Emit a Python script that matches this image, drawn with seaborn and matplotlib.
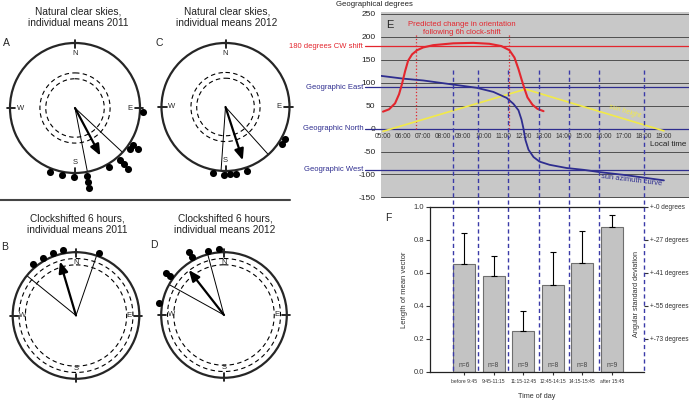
import matplotlib
matplotlib.use("Agg")
import matplotlib.pyplot as plt
import matplotlib.transforms as mtransforms
from matplotlib.lines import Line2D
import seaborn as sns
import numpy as np
import pandas as pd

W, H = 689, 400

# médias individuais (graus, N=0, sentido horário)
angA = [93, 123, 123, 127, 139, 139, 139, 150, 170, 170, 170, 181, 191, 201]
angC = [118, 123, 161, 171, 176, 181, 191]
angB = [320, 330, 340, 349, 20]
angD = [280, 306, 306, 331, 331, 346, 356]

# vetor médio (direção, comprimento) e intervalo de confiança
mediaA, compA, icA = 152, 0.83, (133, 169)
mediaC, compC, icC = 162, 0.875, (138, 184)
mediaB, compB, icB = 343.5, 0.89, (309, 19)
mediaD, compD, icD = 322, 0.91, (299, 345)

tracejadoNatural = (0.45, 0.54)
tracejadoShift = (0.80, 0.90)

# painel E
horasVermelho = [5.0, 5.3, 5.6, 5.8, 5.95, 6.1, 6.25, 6.45, 6.7, 7.0, 7.5, 8.5, 9.5,
                 10.3, 10.9, 11.3, 11.55, 11.75, 11.9, 12.05, 12.2, 12.45, 12.7, 13.0]
valVermelho = [37, 42, 55, 75, 98, 125, 148, 162, 171, 177, 182, 186, 187,
               185, 180, 171, 155, 130, 108, 87, 68, 52, 43, 38]

horasAzimute = [4.9, 6.0, 7.0, 8.0, 8.5, 9.67, 10.5, 11.16, 11.5, 11.75, 11.9, 12.0,
                12.1, 12.25, 12.5, 12.8, 13.3, 14.15, 15.0, 15.8, 17.0, 18.0, 19.0]
valAzimute = [115, 109, 105, 99, 96, 89, 80, 67, 54, 40, 20, 0,
              -25, -46, -62, -72, -79, -86, -90, -95, -101, -107, -113]

horasAltura = [5.0, 12.1, 19.0]
valAltura = [-6, 86, -5]

previsaoLimites = [6.65, 11.3]
limitesFaixas = [8.5, 9.75, 11.25, 12.75, 14.25, 15.75, 18.0]
horasTicks = list(range(5, 20))

# painel F
faixas = ["before 9:45", "9:45-11:15", "11:15-12:45", "12:45-14:15", "14:15-15:45", "after 15:45"]
comprimento = [0.651, 0.582, 0.247, 0.525, 0.659, 0.875]
erroSup = [0.839, 0.703, 0.368, 0.724, 0.853, 0.950]
nAves = [6, 8, 9, 8, 8, 9]
desvioPos = [1.0, 0.8, 0.6, 0.4, 0.2]
desvioTxt = ["+-0 degrees", "+-27 degrees", "+-41 degrees", "+-55 degrees", "+-73 degrees"]

sns.set_style("white")
plt.rcParams["font.family"] = ["Liberation Sans", "DejaVu Sans"]
plt.rcParams["axes.unicode_minus"] = False

VERMELHO = "#e3262e"
AZUL = "#2e2d8f"
AZUL_TRAC = "#3a3aa8"
AMARELO = "#f2ea48"

fig = plt.figure(figsize=(W / 100, H / 100), dpi=100)


def eixoPolar(cx, cy, r):
    return fig.add_axes([(cx - r) / W, (H - cy - r) / H, 2 * r / W, 2 * r / H],
                        projection="polar")


def rosa(ax, angulos, media, comp, ic, raiosTrac):
    ax.set_theta_zero_location("N")
    ax.set_theta_direction(-1)
    ax.set_ylim(0, 1)
    ax.set_xticks([])
    ax.set_yticks([])
    ax.grid(False)
    ax.set_facecolor("none")
    ax.spines["polar"].set_linewidth(1.6)
    t = np.linspace(0, 2 * np.pi, 300)
    for rr in raiosTrac:
        ax.plot(t, np.full_like(t, rr), ls=(0, (4, 3)), color="k", lw=0.8)
    contagem = {}
    th, rs = [], []
    for a in angulos:
        k = contagem.get(a, 0)
        contagem[a] = k + 1
        th.append(np.deg2rad(a))
        rs.append(1.055 + 0.095 * k)
    ax.scatter(th, rs, s=26, color="k", clip_on=False, zorder=5, linewidths=0)
    for a in ic:
        ax.plot([np.deg2rad(a)] * 2, [0, 1], color="k", lw=0.7)
    ax.annotate("", xy=(np.deg2rad(media), comp), xytext=(0, 0),
                arrowprops=dict(arrowstyle="-|>,head_length=0.6,head_width=0.25",
                                color="k", lw=1.6, mutation_scale=11,
                                shrinkA=0, shrinkB=0))
    for nome, a in zip("NESW", [0, 90, 180, 270]):
        ax.plot([np.deg2rad(a)] * 2, [0.92, 1.05], color="k", lw=1.2, clip_on=False)
        ax.text(np.deg2rad(a), 0.84, nome, ha="center", va="center", fontsize=5.5)


rosa(eixoPolar(75, 108, 65), angA, mediaA, compA, icA, tracejadoNatural)
rosa(eixoPolar(225.5, 107, 64), angC, mediaC, compC, icC, tracejadoNatural)
rosa(eixoPolar(76, 315.5, 63.3), angB, mediaB, compB, icB, tracejadoShift)
rosa(eixoPolar(224, 315, 62.8), angD, mediaD, compD, icD, tracejadoShift)

titulos = [(78, 17, "Natural clear skies,\nindividual means 2011"),
           (227, 17, "Natural clear skies,\nindividual means 2012"),
           (77, 224, "Clockshifted 6 hours,\nindividual means 2011"),
           (225, 224, "Clockshifted 6 hours,\nindividual means 2012")]
for x, y, txt in titulos:
    fig.text(x / W, 1 - y / H, txt, ha="center", va="center", fontsize=7.3,
             linespacing=1.15, color="#222222")
for x, y, letra in [(6, 43, "A"), (159, 43, "C"), (5, 247, "B"), (154, 245, "D")]:
    fig.text(x / W, 1 - y / H, letra, ha="center", va="center", fontsize=7.5)

fig.add_artist(Line2D([0, 290 / W], [1 - 199.5 / H] * 2, color="#444444", lw=1.5))

# ---------- painel E
axE = fig.add_axes([381 / W, (H - 197.8) / H, 308 / W, 186.1 / H])
axE.set_facecolor("#c8c8c8")
axE.set_xlim(4.9, 20.25)
axE.set_ylim(-151, 255)
for s in axE.spines.values():
    s.set_visible(False)
axE.spines["bottom"].set_position(("data", 0))
axE.set_yticks(range(-150, 251, 50))
axE.yaxis.grid(True, color="#505050", lw=0.7)
axE.set_axisbelow(True)
axE.set_xticks(horasTicks)
axE.set_xticklabels([f"{h:02d}:00" for h in horasTicks])
axE.tick_params(axis="x", length=2, pad=1.5, labelsize=4.8, colors="#333333")
axE.tick_params(axis="y", length=3, pad=1, labelsize=6, colors="#222222")

refs = [(180, "180 degrees CW shift", VERMELHO),
        (90, "Geographic East", AZUL),
        (0, "Geographic North", AZUL),
        (-90, "Geographic West", AZUL)]
for v, txt, cor in refs:
    axE.plot([4.1, 20.25], [v, v], color=cor, lw=0.9, clip_on=False, zorder=3)
    axE.text(4.02, v, txt, ha="right", va="center", color=cor, fontsize=5.5)

axE.vlines(previsaoLimites, 0, 207, colors=VERMELHO, linestyles=":", lw=0.9, zorder=3)
sns.lineplot(x=horasAltura, y=valAltura, ax=axE, color=AMARELO, lw=1.2, zorder=4)
sns.lineplot(x=horasAzimute, y=valAzimute, ax=axE, color=AZUL, lw=1.3, zorder=5)
sns.lineplot(x=horasVermelho, y=valVermelho, ax=axE, color=VERMELHO, lw=1.5, zorder=6)
axE.set_xlabel("")
axE.set_ylabel("")

axE.text(5.35, 226, "E", fontsize=8, ha="center", va="center")
axE.text(8.92, 218, "Predicted change in orientation\nfollowing 6h clock-shift",
         ha="center", va="center", color=VERMELHO, fontsize=5.6, linespacing=1.25)
axE.text(17.06, 37, "sun height", color=AMARELO, fontsize=5, rotation=-17,
         ha="center", va="center")
axE.text(17.4, -113, "sun azimuth curve", color=AZUL, fontsize=5.4, rotation=-7,
         ha="center", va="center")
axE.text(19.2, -35, "Local time", fontsize=5.8, ha="center", va="center", color="#222222")
fig.text(336 / W, 1 - 4 / H, "Geographical degrees", fontsize=5.6, ha="left",
         va="center", color="#222222")

# ---------- painel F
axF = fig.add_axes([430 / W, (H - 371.7) / H, 214 / W, 165 / H])
dfF = pd.DataFrame({"faixa": faixas, "comp": comprimento})
sns.barplot(data=dfF, x="faixa", y="comp", ax=axF, color="#c3c3c3",
            edgecolor="#6e6e6e", linewidth=0.8, width=0.74, saturation=1)
pos = np.arange(len(faixas))
axF.errorbar(pos, comprimento,
             yerr=[np.zeros(len(pos)), np.array(erroSup) - np.array(comprimento)],
             fmt="none", ecolor="k", elinewidth=0.8, capsize=2.5, capthick=0.8)
for i, n in enumerate(nAves):
    axF.text(i, 0.036, f"n={n}", ha="center", va="center", fontsize=4.8, color="#444444")
axF.set_xlim(-1.15, 6.08)
axF.set_ylim(0, 1)
axF.set_facecolor("none")
axF.spines["right"].set_visible(False)
for lado in ["top", "left", "bottom"]:
    axF.spines[lado].set_linewidth(0.9)
    axF.spines[lado].set_color("#222222")
axF.set_yticks([0.0, 0.2, 0.4, 0.6, 0.8, 1.0])
axF.set_yticklabels(["0.0", "0.2", "0.4", "0.6", "0.8", "1.0"])
axF.tick_params(axis="y", length=3, pad=1.5, labelsize=5.5, colors="#333333", left=True)
axF.tick_params(axis="x", length=2, pad=3, labelsize=3.6, colors="#333333", bottom=True)
axF.set_ylabel("Length of mean vector", fontsize=5.5, color="#333333")
axF.yaxis.set_label_coords(-0.103, 0.495)
axF.set_xlabel("Time of day", fontsize=5.2, color="#333333")
axF.xaxis.set_label_coords(0.5, -0.128)
axF.text(0.967, 0.47, "Angular standard deviation", rotation=90, ha="center",
         va="center", fontsize=5.2, color="#333333", transform=axF.transAxes)

axF2 = axF.twinx()
axF2.set_ylim(0, 1)
for s in axF2.spines.values():
    s.set_visible(False)
axF2.set_yticks(desvioPos)
axF2.set_yticklabels(desvioTxt)
axF2.tick_params(axis="y", length=3, pad=1.5, labelsize=4.7, colors="#333333", right=True)

fig.text(388 / W, 1 - 218 / H, "F", fontsize=7.5, ha="center", va="center")

# linhas tracejadas ligando E e F
trans = mtransforms.blended_transform_factory(axE.transData, fig.transFigure)
for x in limitesFaixas:
    fig.add_artist(Line2D([x, x], [1 - 70 / H, 1 - 372 / H], transform=trans,
                          color=AZUL_TRAC, lw=1.0, ls=(0, (3, 2.2)), zorder=10))

plt.savefig("out.png", dpi=100)
